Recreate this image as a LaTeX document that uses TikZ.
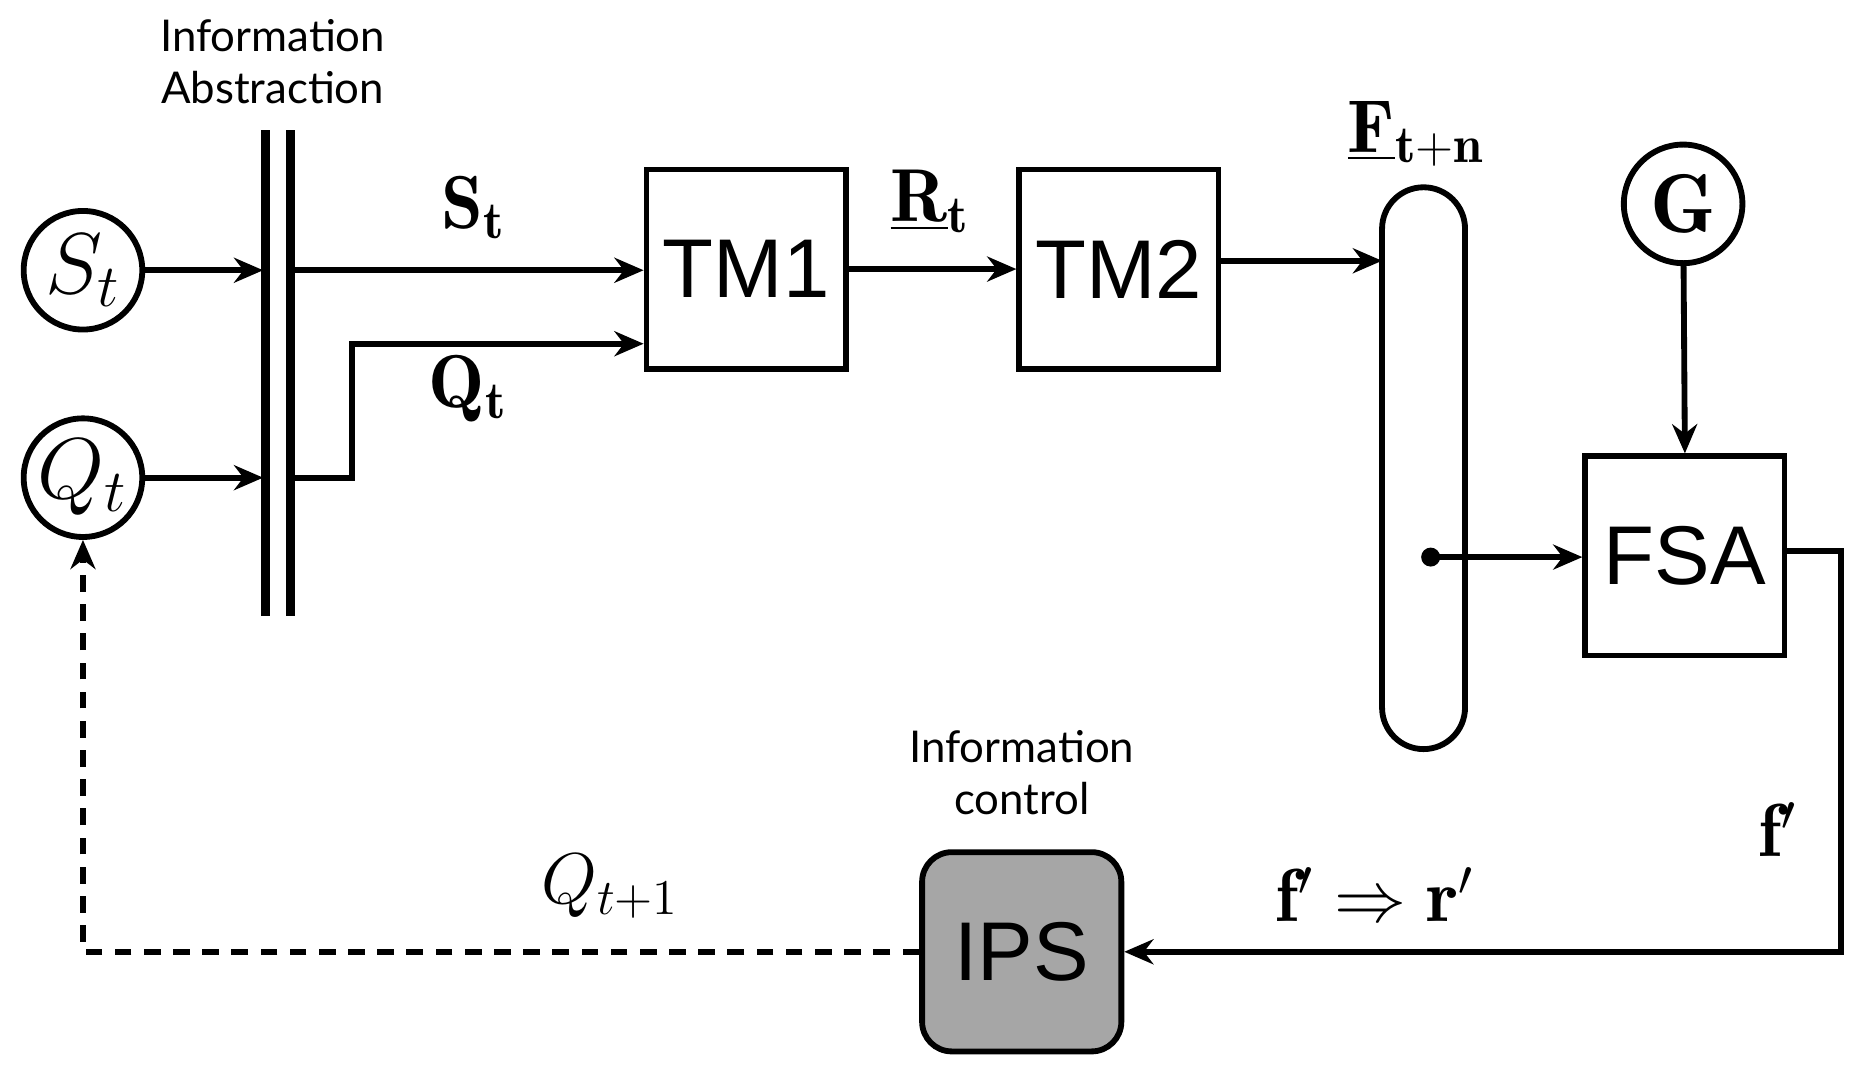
\documentclass[tikz,border=0pt]{standalone}
\usepackage{fontspec}
\newfontfamily\lib{Liberation Sans}
\newfontfamily\gill{Lato}
\usetikzlibrary{arrows.meta}
\begin{document}
\begin{tikzpicture}[x=0.01cm,y=-0.01cm,line width=1.4pt,
  >={Stealth[length=7pt,width=6pt]},
  box/.style={draw,minimum width=1.68cm,minimum height=1.68cm,font=\lib\fontsize{20}{20}\selectfont,inner sep=0pt},
  circ/.style={draw,circle,minimum size=1.0cm,inner sep=0pt,font=\fontsize{20}{20}\selectfont},
  lab/.style={font=\fontsize{18}{18}\selectfont},
  info/.style={font=\gill\fontsize{10.5}{12.5}\selectfont,align=center}]
\useasboundingbox (0,0) rectangle (1565,903);
\node[circ] (S) at (70,228) {$S_t$};
\node[circ] (Q) at (70,403) {$Q_t$};
\draw[line width=2.2pt] (224,110) -- (224,520);
\draw[line width=2.2pt] (245,110) -- (245,520);
\node[info] (ia) at (230,52) {Information\\Abstraction};
\coordinate (bs) at (222,228); \coordinate (bq) at (222,403);
\coordinate (os) at (248,228); \coordinate (oq) at (248,403);
\draw[->] (S) -- (bs);
\draw[->] (Q) -- (bq);
\node[box] (T1) at (629.5,227) {TM1};
\node[box] (T2) at (944,227) {TM2};
\draw[->] (os) -- (os -| T1.west);
\coordinate (k) at (297,290);
\draw[->] (oq) -- (297,403) -- (k) -- (k -| T1.west);
\node[lab] (ls) at (400,175) {$\mathbf{S_t}$};
\node[lab] (lq) at (395,328) {$\mathbf{Q_t}$};
\draw[->] (T1.east) -- (T2.west);
\node[lab] (lr) at (785,170) {$\underline{\mathbf{R}}_\mathbf{t}$};
\draw[rounded corners=0.35cm] (1166,158) rectangle (1236,632);
\coordinate (pl) at (1166,220);
\draw[->] (T2.east |- pl) -- (pl);
\node[lab] (lf) at (1195,113) {$\underline{\mathbf{F}}_\mathbf{t+n}$};
\node[circ] (G) at (1420,172) {$\mathbf{G}$};
\node[box] (F) at (1421.5,469) {FSA};
\draw[->] (G) -- (F.north);
\fill (1207,470) coordinate (d) circle (0.08cm);
\draw[->] (d) -- (d -| F.west);
\node[box,fill=gray!70,rounded corners=0.25cm] (I) at (862,803) {IPS};
\node[info] (ic) at (862,652) {Information\\control};
\coordinate (fe) at (1553,465);
\draw[->] (F.east |- fe) -- (fe) -- (1553,803) -- (I.east);
\node[lab] (l1) at (1500,700) {$\mathbf{f'}$};
\node[lab] (l2) at (1160,755) {$\mathbf{f'\Rightarrow r'}$};
\draw[->,dash pattern=on 4pt off 3pt] (I.west) -- (70,803) -- (Q.south);
\node[lab] (l3) at (515,748) {$Q_{t+1}$};
\end{tikzpicture}
\end{document}
